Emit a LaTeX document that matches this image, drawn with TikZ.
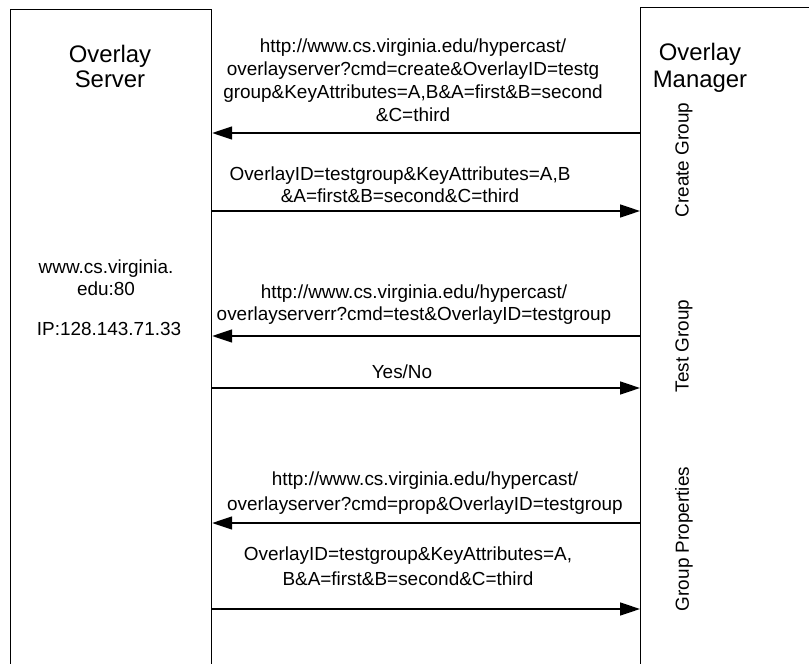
\documentclass[tikz,border=0pt]{standalone}
\usepackage{fontspec}
\setmainfont{Liberation Sans}
\usetikzlibrary{arrows.meta}
\begin{document}
\begin{tikzpicture}[x=1bp,y=-1bp,
  lbl/.style={align=center, inner sep=0pt, anchor=base, font=\fontsize{19}{23}\selectfont},
  title/.style={align=center, inner sep=0pt, anchor=base},
  side/.style={inner sep=0pt, anchor=center, rotate=90, font=\fontsize{19}{23}\selectfont},
  msg/.style={line width=1.6bp, -{Triangle[length=20bp,width=13bp]}},
  box/.style={draw, line width=1.2bp, inner sep=0pt, anchor=north west}]
\useasboundingbox (0,0) rectangle (809,664);
% lifeline boxes (open past the page edge)
\node[box, minimum width=201bp, minimum height=720bp] (server) at (10,9) {};
\node[box, minimum width=260bp, minimum height=720bp] (mgr) at (640,7) {};
% titles (anchor base = last line)
\node[title, font=\fontsize{24}{25.5}\selectfont] (tserver) at (110,88) {Overlay\\Server};
\node[title, font=\fontsize{24}{28}\selectfont] (tmgr) at (700,88) {Overlay\\Manager};
\node[lbl, font=\fontsize{19}{22}\selectfont] (addr) at (106,295) {www.cs.virginia.\\edu:80};
\node[lbl] (ip) at (109,335) {IP:128.143.71.33};
% phase labels
\node[side] (pcreate) at (684,160) {Create Group};
\node[side] (ptest) at (684,346) {Test Group};
\node[side] (pprop) at (684,539) {Group Properties};
% messages
\draw[msg] (mgr.west |- 0,133) -- (server.east |- 0,133);
\node[lbl, font=\fontsize{19}{23.4}\selectfont] (l1) at (413,122) {http://www.cs.virginia.edu/hypercast/\\overlayserver?cmd=create\&OverlayID=testg\\group\&KeyAttributes=A,B\&A=first\&B=second\\\&C=third};
\draw[msg] (server.east |- 0,211) -- (mgr.west |- 0,211);
\node[lbl, font=\fontsize{19}{22}\selectfont] (l2) at (400,202) {OverlayID=testgroup\&KeyAttributes=A,B\\\&A=first\&B=second\&C=third};
\draw[msg] (mgr.west |- 0,336) -- (server.east |- 0,336);
\node[lbl, font=\fontsize{19}{22}\selectfont] (l3) at (414,320) {http://www.cs.virginia.edu/hypercast/\\overlayserverr?cmd=test\&OverlayID=testgroup};
\draw[msg] (server.east |- 0,388) -- (mgr.west |- 0,388);
\node[lbl] (l4) at (402,378) {Yes/No};
\draw[msg] (mgr.west |- 0,523) -- (server.east |- 0,523);
\node[lbl, font=\fontsize{19}{25}\selectfont] (l5) at (425,510) {http://www.cs.virginia.edu/hypercast/\\overlayserver?cmd=prop\&OverlayID=testgroup};
\draw[msg] (server.east |- 0,609) -- (mgr.west |- 0,609);
\node[lbl, font=\fontsize{19}{25}\selectfont] (l6) at (408,585) {OverlayID=testgroup\&KeyAttributes=A,\\B\&A=first\&B=second\&C=third};
\end{tikzpicture}
\end{document}
